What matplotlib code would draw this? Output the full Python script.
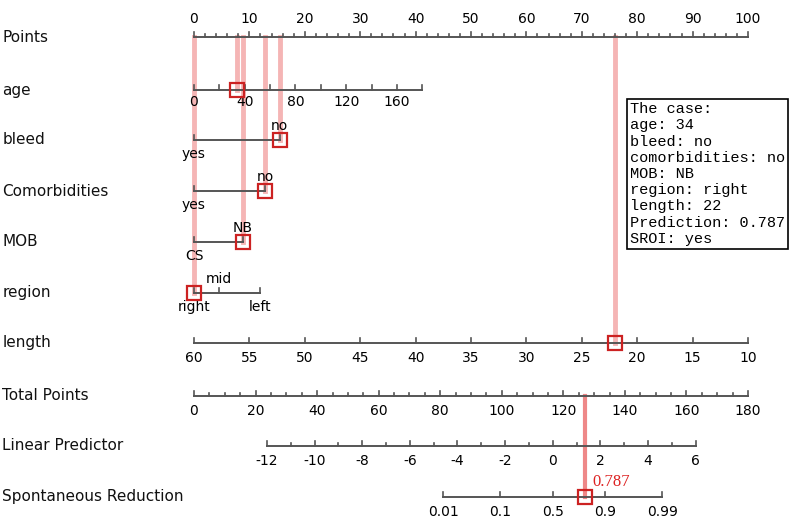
import numpy as np
import matplotlib
matplotlib.use("Agg")
import matplotlib.pyplot as plt

# ---- data ----
row_names = ["Points", "age", "bleed", "Comorbidities", "MOB", "region", "length",
             "Total Points", "Linear Predictor", "Spontaneous Reduction"]
points_ticks = list(range(0, 101, 10))
age_ticks = [0, 40, 80, 120, 160]
age_max = 180
age_pts_per_year = 41.2 / 180
bleed_labels = ["yes", "no"]; bleed_pts = [0, 15.5]
comorb_labels = ["yes", "no"]; comorb_pts = [0, 12.8]
mob_labels = ["CS", "NB"]; mob_pts = [0, 8.8]
region_labels = ["right", "mid", "left"]; region_pts = [0, 4.5, 11.9]
length_ticks = [60, 55, 50, 45, 40, 35, 30, 25, 20, 15, 10]
total_ticks = list(range(0, 181, 20))
lp_ticks = [-12, -10, -8, -6, -4, -2, 0, 2, 4, 6]
prob_ticks = [0.01, 0.1, 0.5, 0.9, 0.99]
lp_at_total0, lp_per_total = -12 - 23.7 * 18 / 139.3, 18 / 139.3
case_age, case_length, case_total = 34, 22, 127
case_prob_label = "0.787"
case_text = ("The case:\nage: 34\nbleed: no\ncomorbidities: no\nMOB: NB\n"
             "region: right\nlength: 22\nPrediction: 0.787\nSROI: yes")

# ---- scales ----
def len_pts(L):
    return (60 - L) * 2.0
def tot_x(T):
    return T * 100 / 180
def lp_x(lp):
    return tot_x((lp - lp_at_total0) / lp_per_total)
def prob_x(p):
    return lp_x(np.log(p / (1 - p)))

fig = plt.figure(figsize=(8.1, 5.23), dpi=100)
ax = fig.add_axes([0, 0, 1, 1])
ax.set_xlim(-194 / 5.54, (810 - 194) / 5.54)
ax.set_ylim(523, 0)
ax.axis("off")

rows_y = [37, 90, 140, 191, 242, 293, 343, 396, 446, 497]
Y = dict(zip(row_names, rows_y))
lc = "#555555"
tfs = 10
for n, y in Y.items():
    ax.text(-194 / 5.54 + 0.4, y, n, fontsize=11, va="center", ha="left", color="#111")

def hline(x0, x1, y):
    ax.plot([x0, x1], [y, y], color=lc, lw=1.4, zorder=2)
def tick(x, y, h=5):
    ax.plot([x, x], [y, y - h], color=lc, lw=1.2, zorder=2)

pink = "#f5b5b5"
case_pts = [case_age * age_pts_per_year, bleed_pts[1], comorb_pts[1], mob_pts[1],
            region_pts[0], len_pts(case_length)]
for nm, p in zip(["age", "bleed", "Comorbidities", "MOB", "region", "length"], case_pts):
    ax.plot([p, p], [Y["Points"], Y[nm]], color=pink, lw=3.5, zorder=1)
ax.plot([tot_x(case_total)] * 2, [Y["Total Points"], Y["Spontaneous Reduction"]],
        color="#ee8888", lw=3, zorder=1)

# Points
y = Y["Points"]; hline(0, 100, y)
for v in np.arange(0, 101, 2):
    tick(v, y, 5 if v % 10 == 0 else 3)
for v in points_ticks:
    ax.text(v, y - 11, str(v), ha="center", va="bottom", fontsize=tfs)
# age
y = Y["age"]; hline(0, age_max * age_pts_per_year, y)
for v in range(0, age_max + 1, 20):
    tick(v * age_pts_per_year, y, 5)
for v in age_ticks:
    ax.text(v * age_pts_per_year, y + 5, str(v), ha="center", va="top", fontsize=tfs)
# two-level categorical
for nm, labs, pts in [("bleed", bleed_labels, bleed_pts),
                      ("Comorbidities", comorb_labels, comorb_pts),
                      ("MOB", mob_labels, mob_pts)]:
    y = Y[nm]; hline(pts[0], pts[1], y)
    for p in pts:
        tick(p, y, 5)
    ax.text(pts[0], y + 7, labs[0], ha="center", va="top", fontsize=tfs)
    ax.text(pts[1], y - 7, labs[1], ha="center", va="bottom", fontsize=tfs)
# region
y = Y["region"]; hline(region_pts[0], region_pts[-1], y)
for p in region_pts:
    tick(p, y, 5)
ax.text(region_pts[0], y + 7, region_labels[0], ha="center", va="top", fontsize=tfs)
ax.text(region_pts[1], y - 7, region_labels[1], ha="center", va="bottom", fontsize=tfs)
ax.text(region_pts[2], y + 7, region_labels[2], ha="center", va="top", fontsize=tfs)
# length
y = Y["length"]; hline(0, 100, y)
for v in length_ticks:
    tick(len_pts(v), y, 5)
    ax.text(len_pts(v), y + 8, str(v), ha="center", va="top", fontsize=tfs)
# total points
y = Y["Total Points"]; hline(0, 100, y)
for v in range(0, 181, 5):
    tick(tot_x(v), y, 5 if v % 20 == 0 else 3)
for v in total_ticks:
    ax.text(tot_x(v), y + 8, str(v), ha="center", va="top", fontsize=tfs)
# linear predictor
y = Y["Linear Predictor"]; hline(lp_x(-12), lp_x(6), y)
for v in range(-12, 7):
    tick(lp_x(v), y, 5 if v % 2 == 0 else 3)
for v in lp_ticks:
    ax.text(lp_x(v), y + 8, str(v), ha="center", va="top", fontsize=tfs)
# probability
y = Y["Spontaneous Reduction"]; hline(prob_x(0.01), prob_x(0.99), y)
for v in prob_ticks:
    tick(prob_x(v), y, 5)
    ax.text(prob_x(v), y + 8, str(v), ha="center", va="top", fontsize=tfs)

# markers
mk = dict(marker="s", ms=10, mfc="none", mec="#cc2222", mew=1.6, zorder=4, ls="none")
for nm, p in zip(["age", "bleed", "Comorbidities", "MOB", "region", "length"], case_pts):
    ax.plot([p], [Y[nm]], **mk)
ax.plot([tot_x(case_total)], [Y["Spontaneous Reduction"]], **mk)
ax.text(tot_x(case_total) + 1.3, 482, case_prob_label, color="#dd2222",
        fontsize=12, family="Liberation Serif", va="center", ha="left")

# case box
ax.text(78.7, 174, case_text, family="Liberation Mono", fontsize=11, va="center",
        ha="left", linespacing=1.2,
        bbox=dict(boxstyle="square,pad=0.2", fc="white", ec="black", lw=1.2), zorder=5)

fig.savefig("out.png", dpi=100)
